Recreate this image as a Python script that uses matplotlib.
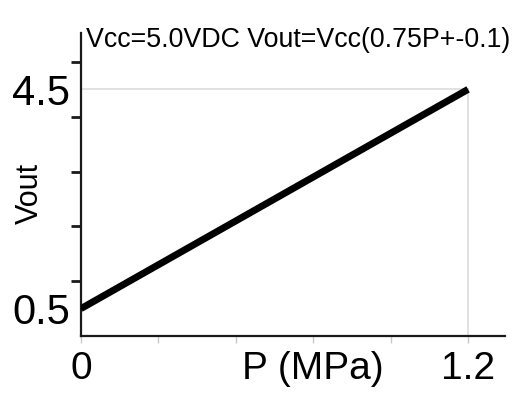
import matplotlib
matplotlib.use("Agg")
import matplotlib.pyplot as plt

# sensor output line: Vout vs pressure
pressure = [0.0, 1.2]
vout = [0.5, 4.5]

x_ticks = [0.0, 0.24, 0.48, 0.72, 0.96, 1.2]
x_tick_labels = ["0", "", "", "P (MPa)", "", "1.2"]
y_ticks = [0.5, 4.5]
y_tick_labels = ["0.5", "4.5"]
y_minor = [1, 2, 3, 4, 5]

title = "Vcc=5.0VDC Vout=Vcc(0.75P+-0.1)"

plt.rcParams["font.family"] = ["Liberation Sans", "DejaVu Sans"]

fig = plt.figure(figsize=(5.29, 4.01), dpi=100)
ax = fig.add_axes([0.153, 0.162, 0.802, 0.756])

# faint guide lines at the end point
ax.plot([0, pressure[1]], [vout[1], vout[1]], color="#dcdcdc", lw=1.2, zorder=1)
ax.plot([pressure[1], pressure[1]], [0, vout[1]], color="#dcdcdc", lw=1.2, zorder=1)

ax.plot(pressure, vout, color="black", lw=5, solid_capstyle="butt", zorder=3)

ax.set_xlim(0, 1.315)
ax.set_ylim(0, 5.53)

for s in ["top", "right"]:
    ax.spines[s].set_visible(False)
ax.spines["left"].set_linewidth(1.6)
ax.spines["bottom"].set_linewidth(1.6)
ax.spines["left"].set_color("#1a1a1a")
ax.spines["bottom"].set_color("#1a1a1a")

ax.set_xticks(x_ticks)
ax.set_xticklabels(x_tick_labels, fontsize=28)
ax.tick_params(axis="x", direction="out", length=5, width=1, color="#c8c8c8", pad=6)

ax.set_yticks(y_minor, minor=True)
ax.set_yticks(y_ticks)
ax.set_yticklabels(y_tick_labels, fontsize=30)
ax.tick_params(axis="y", which="major", length=0, pad=8)
ax.tick_params(axis="y", which="minor", direction="out", length=7, width=2, color="#1a1a1a")

ax.set_ylabel("Vout", fontsize=22)
ax.yaxis.set_label_coords(-0.085, 0.47)

ax.text(0.012, 0.955, title, transform=ax.transAxes, fontsize=19.3,
        ha="left", va="baseline")

fig.savefig("out.png", dpi=100, facecolor="white")
